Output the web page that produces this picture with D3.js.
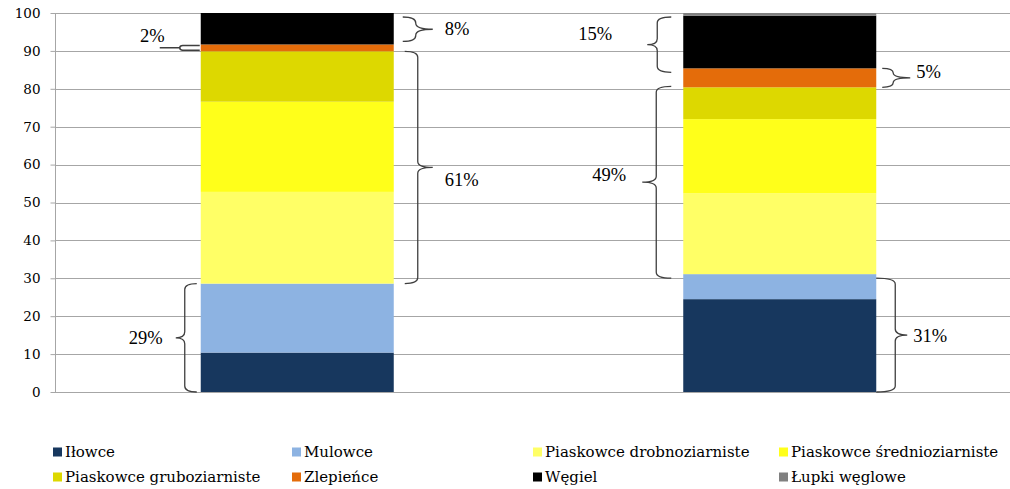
<!DOCTYPE html>
<html>
<head>
<meta charset="utf-8">
<script src="https://cdn.jsdelivr.net/npm/d3@7"></script>
<style>
  html, body { margin: 0; padding: 0; background: #fff; }
  svg { display: block; }
</style>
</head>
<body>
<svg id="chart" width="1010" height="489"></svg>
<script>
// Two lithological profiles, share of each rock type (%)
const profiles = ["Profil I", "Profil II"];
const seriesNames = [
  "Iłowce", "Mulowce", "Piaskowce drobnoziarniste", "Piaskowce średnioziarniste",
  "Piaskowce gruboziarniste", "Zlepieńce", "Węgiel", "Łupki węglowe"
];
const ilowce      = [10.4, 24.5];
const mulowce     = [18.2, 6.6];
const drobno      = [24.2, 21.3];
const srednio     = [23.8, 19.6];
const grubo       = [13.3, 8.4];
const zlepience   = [1.8, 5.0];
const wegiel      = [8.3, 13.9];
const lupki       = [0.0, 0.7];
const seriesValues = [ilowce, mulowce, drobno, srednio, grubo, zlepience, wegiel, lupki];
const seriesColors = ["#17375E", "#8DB3E2", "#FFFF66", "#FFFF1A", "#DDD800", "#E46C0A", "#000000", "#808080"];
const yTicks = [0, 10, 20, 30, 40, 50, 60, 70, 80, 90, 100];

// Bracket annotations: which profile, which series range they group, which side of the bar
const brackets = [
  { bar: 0, from: 0, to: 1, side: "left",  hook: 4,  spine: 16, tip: 9,  top: 0,  bottom: 0,  ldx: -13, ldy: 6 },
  { bar: 0, from: 5, to: 5, side: "left",  hook: 1,  spine: 21, tip: 20, top: 1,  bottom: 1,  ldx: 5,   ldy: -6, small: true },
  { bar: 0, from: 2, to: 4, side: "right", hook: 11, spine: 24, tip: 15, top: 0,  bottom: 0,  ldx: 12,  ldy: 19 },
  { bar: 0, from: 6, to: 7, side: "right", hook: 9,  spine: 22, tip: 17, top: 4,  bottom: 3,  ldx: 12,  ldy: 6 },
  { bar: 1, from: 0, to: 1, side: "right", hook: 0,  spine: 19, tip: 12, top: 4,  bottom: 0,  ldx: 6,   ldy: 7 },
  { bar: 1, from: 2, to: 4, side: "left",  hook: 12, spine: 27, tip: 14, top: -1, bottom: -4, ldx: -16, ldy: -1 },
  { bar: 1, from: 5, to: 5, side: "right", hook: 6,  spine: 17, tip: 17, top: 0,  bottom: 0,  ldx: 6,   ldy: 0 },
  { bar: 1, from: 6, to: 7, side: "left",  hook: 12, spine: 26, tip: 10, top: 4,  bottom: -4, ldx: -35, ldy: -5 }
];

const W = 1010, H = 489;
const svg = d3.select("#chart");

const y = d3.scaleLinear().domain([0, 100]).range([392, 13]);
const x = d3.scaleBand().domain(profiles).range([56, 1021]).paddingInner(0.6).paddingOuter(0.3);

// gridlines
const grid = svg.append("g");
grid.selectAll("line").data(yTicks).join("line")
  .attr("x1", 55).attr("x2", W)
  .attr("y1", d => Math.round(y(d)) + 0.5).attr("y2", d => Math.round(y(d)) + 0.5)
  .attr("stroke", "#A6A6A6").attr("stroke-width", 1);

// y axis
const yAxis = d3.axisLeft(y).tickValues(yTicks).tickSize(5).tickPadding(10);
const ga = svg.append("g").attr("transform", "translate(55.5,0)").call(yAxis);
ga.select(".domain").attr("stroke", "#A6A6A6").attr("d", `M0,${y(0)}V${y(100)}`);
ga.selectAll(".tick line").attr("stroke", "#A6A6A6");
ga.selectAll(".tick text")
  .attr("font-family", "'DejaVu Serif', serif").attr("font-size", 13.5).attr("fill", "#000");

// stacked bars
const rows = profiles.map((p, i) => {
  const r = { profile: p };
  seriesNames.forEach((s, k) => { r[s] = seriesValues[k][i]; });
  return r;
});
const stacked = d3.stack().keys(seriesNames)(rows);

svg.append("g").selectAll("g").data(stacked).join("g")
  .attr("fill", (d, k) => seriesColors[k])
  .selectAll("rect").data(d => d).join("rect")
  .attr("x", d => x(d.data.profile))
  .attr("width", x.bandwidth())
  .attr("y", d => y(d[1]))
  .attr("height", d => y(d[0]) - y(d[1]));

// curly braces
function bracePath(xh, xs, xt, y0, y1, ym) {
  const r = Math.min(6, (y1 - y0) / 4);
  return `M${xh},${y0} Q${xs},${y0} ${xs},${y0 + r} L${xs},${ym - r} Q${xs},${ym} ${xt},${ym}` +
         ` Q${xs},${ym} ${xs},${ym + r} L${xs},${y1 - r} Q${xs},${y1} ${xh},${y1}`;
}

const ann = svg.append("g");
brackets.forEach(b => {
  const p = profiles[b.bar];
  const lo = stacked[b.from][b.bar][0];
  const hi = stacked[b.to][b.bar][1];
  const pct = Math.round(hi - lo);
  const y0 = y(hi) + b.top, y1 = y(lo) - b.bottom;
  const ym = (y0 + y1) / 2;
  const s = b.side === "right" ? 1 : -1;
  const edge = b.side === "right" ? x(p) + x.bandwidth() : x(p);
  const xh = edge + s * b.hook;
  const xs = edge + s * b.spine;
  const xt = xs + s * b.tip;
  if (b.small) {
    // tiny brace with a long lead line
    ann.append("path")
      .attr("d", `M${xh},${y0} L${xs + 3},${y0} Q${xs},${y0} ${xs},${ym} Q${xs},${y1} ${xs + 3},${y1} L${xh},${y1} M${xs},${ym} L${xt},${ym}`)
      .attr("fill", "none").attr("stroke", "#3F3F3F").attr("stroke-width", 1.5);
  } else {
    ann.append("path")
      .attr("d", bracePath(xh, xs, xt, y0, y1, ym))
      .attr("fill", "none").attr("stroke", "#3F3F3F").attr("stroke-width", 1.3);
  }
  ann.append("text")
    .attr("x", xt + b.ldx)
    .attr("y", ym + b.ldy)
    .attr("text-anchor", b.side === "right" ? "start" : "end")
    .attr("font-family", "'Liberation Serif', serif")
    .attr("font-size", 18.5)
    .attr("fill", "#000")
    .text(pct + "%");
});

// legend
const legendCols = [53, 292, 533, 779];
const legendRows = [452, 477];
const lg = svg.append("g");
seriesNames.forEach((name, k) => {
  const cx = legendCols[k % 4], cy = legendRows[Math.floor(k / 4)];
  lg.append("rect").attr("x", cx).attr("y", cy - 4.5).attr("width", 9).attr("height", 9)
    .attr("fill", seriesColors[k]);
  lg.append("text").attr("x", cx + 12).attr("y", cy + 5)
    .attr("font-family", "'DejaVu Serif', serif").attr("font-size", 15).attr("fill", "#000")
    .text(name);
});
</script>
</body>
</html>
